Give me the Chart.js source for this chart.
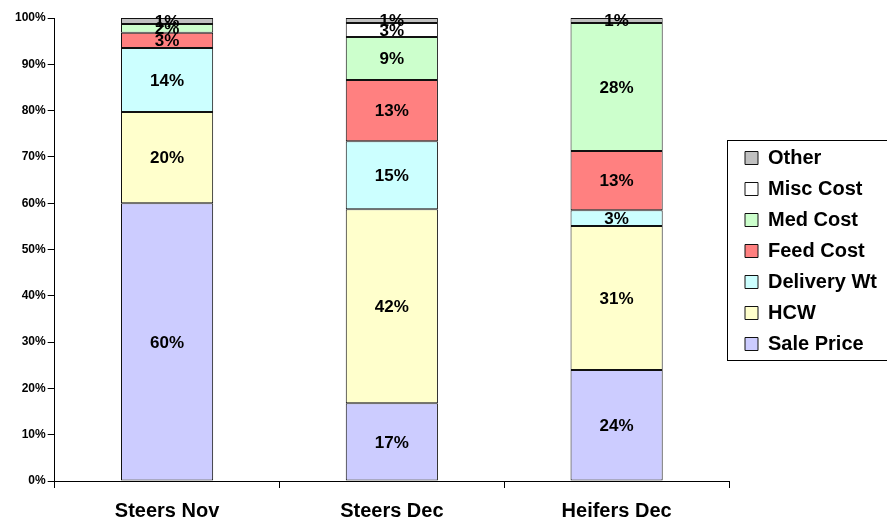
<!DOCTYPE html>
<html>
<head>
<meta charset="utf-8">
<script src="https://cdn.jsdelivr.net/npm/chart.js@4/dist/chart.umd.min.js"></script>
<style>
  body { margin: 0; background: #fff; }
  #wrap { width: 887px; height: 520px; }
</style>
</head>
<body>
<div id="wrap"><canvas id="chart"></canvas></div>
<script>
const categories = ['Steers Nov', 'Steers Dec', 'Heifers Dec'];

const salePrice = [60.0, 16.8, 24.0];
const hcw = [19.7, 41.9, 31.1];
const deliveryWt = [13.8, 14.7, 3.4];
const feedCost = [3.3, 13.2, 12.8];
const medCost = [1.9, 9.3, 27.6];
const miscCost = [0, 3.0, 0];
const other = [1.3, 1.1, 1.1];

const yTicks = [0, 10, 20, 30, 40, 50, 60, 70, 80, 90, 100];

const FONT = '"Liberation Sans", Arial, sans-serif';
const LEGEND_W = 158;   // fixed legend column width
const LEGEND_TOP = 137; // where the legend rows start

function ds(label, data, color) {
    return {
        label: label,
        data: data,
        backgroundColor: color,
        borderColor: '#111111',
        borderWidth: 1,
        borderSkipped: false,
        categoryPercentage: 1.0,
        barPercentage: 0.41
    };
}

// draw the value in the middle of every segment
const segmentLabels = {
    id: 'segmentLabels',
    afterDatasetsDraw(chart) {
        let ctx = chart.ctx;
        ctx.save();
        ctx.font = 'bold 17px ' + FONT;
        ctx.fillStyle = '#000';
        ctx.textAlign = 'center';
        ctx.textBaseline = 'middle';
        chart.data.datasets.forEach((d, i) => {
            let meta = chart.getDatasetMeta(i);
            meta.data.forEach((bar, j) => {
                let v = d.data[j];
                if (!v) return;
                let y = (bar.y + bar.base) / 2;
                ctx.fillText(Math.round(v) + '%', bar.x, y + 1);
            });
        });
        ctx.restore();
    }
};

// fixed legend width, moved rows and a border round it
const legendBox = {
    id: 'legendBox',
    beforeLayout(chart) {
        let lg = chart.legend;
        if (lg && !lg._patched) {
            let fit = lg.fit;
            lg.fit = function () {
                fit.call(this);
                this.width = LEGEND_W;
            };
            lg._patched = true;
        }
    },
    beforeDraw(chart) {
        let lg = chart.legend;
        lg.left = chart.chartArea.right + 5;
        lg.top = LEGEND_TOP;
    },
    afterDraw(chart) {
        let lg = chart.legend;
        let n = chart.data.datasets.length;
        let rowTop = lg.top + 11;
        let top = Math.round(rowTop - 8) + 0.5;
        let bottom = Math.round(rowTop + (n - 1) * 31 + 26) + 0.5;
        let ctx = chart.ctx;
        ctx.save();
        ctx.strokeStyle = '#000';
        ctx.lineWidth = 1;
        ctx.strokeRect(Math.round(lg.left - 7) + 0.5, top, chart.width, bottom - top);
        ctx.restore();
    }
};

new Chart(document.getElementById('chart'), {
    type: 'bar',
    data: {
        labels: categories,
        datasets: [
            ds('Sale Price', salePrice, '#CCCCFF'),
            ds('HCW', hcw, '#FFFFCC'),
            ds('Delivery Wt', deliveryWt, '#CCFFFF'),
            ds('Feed Cost', feedCost, '#FF8080'),
            ds('Med Cost', medCost, '#CCFFCC'),
            ds('Misc Cost', miscCost, '#FFFFFF'),
            ds('Other', other, '#C0C0C0')
        ]
    },
    options: {
        responsive: true,
        maintainAspectRatio: false,
        animation: false,
        layout: { padding: { top: 18, left: 13, bottom: -14, right: 0 } },
        plugins: {
            tooltip: { enabled: false },
            legend: {
                position: 'right',
                align: 'start',
                reverse: true,
                labels: {
                    color: '#000',
                    boxWidth: 13,
                    boxHeight: 13,
                    padding: 11,
                    font: { family: FONT, size: 20, weight: 'bold' }
                }
            }
        },
        scales: {
            x: {
                stacked: true,
                grid: { offset: true, drawOnChartArea: false, color: '#000', tickLength: 7 },
                border: { color: '#000' },
                ticks: {
                    color: '#000',
                    padding: 13,
                    font: { family: FONT, size: 20, weight: 'bold', lineHeight: 1.0 }
                }
            },
            y: {
                stacked: true,
                min: 0,
                max: 100,
                afterBuildTicks: axis => { axis.ticks = yTicks.map(v => ({ value: v })); },
                grid: { drawOnChartArea: false, color: '#000', tickLength: 7 },
                border: { color: '#000' },
                ticks: {
                    color: '#000',
                    padding: 2,
                    font: { family: FONT, size: 12, weight: 'bold' },
                    callback: v => v + '%'
                }
            }
        }
    },
    plugins: [segmentLabels, legendBox]
});
</script>
</body>
</html>
